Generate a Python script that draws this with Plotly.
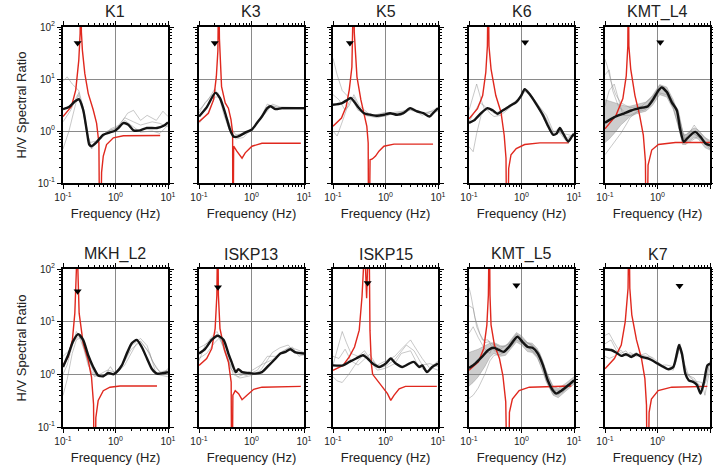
import plotly.graph_objects as go

# ---------------- DATA ----------------
STATIONS = ["K1", "K3", "K5", "K6", "KMT_L4", "MKH_L2", "ISKP13", "ISKP15", "KMT_L5", "K7"]

# mean observed H/V (black)
K1_mean_f = [0.1, 0.13, 0.168, 0.2, 0.242, 0.288, 0.316, 0.35, 0.437, 0.585, 0.785, 0.98, 1.13, 1.41, 1.76, 2.2, 2.95, 3.95, 6.15, 8.26, 10]
K1_mean_hv = [2.63, 2.9, 3.69, 4.08, 2.56, 0.92, 0.55, 0.51, 0.61, 0.85, 0.94, 1.01, 1.14, 1.42, 1.32, 1.03, 1.03, 1.14, 1.14, 1.26, 1.47]
K3_mean_f = [0.1, 0.141, 0.204, 0.251, 0.316, 0.389, 0.457, 0.562, 0.759, 1.02, 1.26, 1.58, 2.0, 2.29, 2.88, 3.8, 6.0, 10]
K3_mean_hv = [1.9, 2.88, 5.4, 4.27, 2.19, 1.07, 0.78, 0.79, 0.93, 1.07, 1.41, 1.9, 2.75, 3.0, 2.63, 2.75, 2.75, 2.75]
K5_mean_f = [0.1, 0.145, 0.19, 0.221, 0.295, 0.389, 0.525, 0.692, 0.933, 1.23, 1.66, 2.19, 2.95, 3.89, 5.25, 6.92, 8.71, 10]
K5_mean_hv = [3.2, 3.4, 4.0, 4.3, 2.96, 2.2, 2.05, 1.96, 2.05, 2.2, 2.05, 2.2, 2.75, 2.4, 2.2, 1.9, 2.4, 2.75]
K6_mean_f = [0.1, 0.125, 0.166, 0.224, 0.282, 0.351, 0.437, 0.589, 0.794, 0.986, 1.15, 1.41, 1.91, 2.57, 3.16, 3.98, 4.65, 5.37, 6.24, 7.76, 9.02, 10]
K6_mean_hv = [1.44, 1.6, 2.15, 2.75, 2.5, 2.15, 2.47, 3.0, 3.6, 4.8, 6.4, 5.2, 3.3, 2.0, 1.28, 0.85, 0.89, 1.14, 0.89, 0.63, 0.77, 0.89]
KMT_L4_mean_f = [0.1, 0.151, 0.219, 0.316, 0.457, 0.661, 0.832, 1.04, 1.2, 1.51, 1.86, 2.34, 2.69, 3.16, 3.63, 4.57, 5.25, 6.61, 8.32, 10]
KMT_L4_mean_hv = [1.44, 1.85, 2.14, 2.48, 2.75, 3.0, 4.1, 6.0, 6.9, 5.6, 3.6, 2.48, 1.1, 0.62, 0.71, 0.89, 0.96, 0.77, 0.57, 0.53]
MKH_L2_mean_f = [0.1, 0.125, 0.155, 0.195, 0.242, 0.302, 0.376, 0.468, 0.585, 0.73, 0.912, 1.05, 1.32, 1.64, 2.04, 2.54, 3.16, 3.98, 4.9, 6.17, 8.26, 10]
MKH_L2_mean_hv = [1.38, 2.3, 4.2, 5.8, 4.5, 2.3, 1.38, 0.95, 0.92, 1.06, 1.0, 1.1, 1.48, 2.48, 3.9, 4.5, 3.3, 2.0, 1.28, 1.03, 1.06, 1.1]
ISKP13_mean_f = [0.1, 0.13, 0.174, 0.229, 0.295, 0.363, 0.417, 0.501, 0.562, 0.661, 0.883, 1.17, 1.58, 2.14, 2.88, 3.55, 4.47, 5.5, 6.92, 10]
ISKP13_mean_hv = [2.48, 3.0, 4.5, 5.4, 4.5, 2.48, 1.72, 1.1, 1.25, 1.1, 1.06, 1.03, 1.1, 1.48, 2.0, 2.48, 2.67, 3.0, 2.6, 2.48]
ISKP15_mean_f = [0.1, 0.155, 0.204, 0.275, 0.372, 0.457, 0.569, 0.759, 1.01, 1.26, 1.57, 2.09, 2.82, 3.47, 4.37, 5.01, 6.17, 7.76, 10]
ISKP15_mean_hv = [1.48, 1.48, 1.72, 2.0, 2.3, 2.0, 1.6, 1.38, 1.6, 2.0, 1.6, 1.38, 1.6, 1.72, 1.38, 1.48, 1.1, 1.38, 1.6]
KMT_L5_mean_f = [0.1, 0.131, 0.176, 0.234, 0.295, 0.372, 0.457, 0.575, 0.724, 0.832, 1.05, 1.32, 1.62, 2.04, 2.57, 3.16, 3.98, 4.57, 5.75, 7.76, 10]
KMT_L5_mean_hv = [1.32, 1.6, 2.14, 2.9, 3.2, 2.9, 2.67, 3.3, 4.5, 5.2, 4.1, 3.3, 3.2, 2.5, 1.48, 0.77, 0.49, 0.43, 0.49, 0.62, 0.77]
K7_mean_f = [0.1, 0.131, 0.162, 0.204, 0.251, 0.316, 0.398, 0.495, 0.661, 0.891, 1.2, 1.62, 2.0, 2.34, 2.57, 2.92, 3.39, 3.94, 4.9, 5.69, 6.61, 7.66, 8.91, 10]
K7_mean_hv = [3.0, 2.9, 2.6, 2.24, 2.4, 2.14, 2.4, 2.14, 2.0, 1.72, 1.44, 1.25, 1.38, 2.47, 3.6, 2.47, 1.03, 0.77, 0.71, 0.62, 0.43, 0.71, 1.48, 1.6]

# theoretical H/V (red); 1000 = off-scale peak, 0.001 = off-scale trough
K1_theo_f = [0.1, 0.145, 0.175, 0.2, 0.212, 0.218, 0.224, 0.234, 0.26, 0.302, 0.376, 0.436, 0.483, 0.505, 0.543, 0.585, 0.676, 0.91, 1.41, 3.0, 7.1]
K1_theo_hv = [1.9, 2.96, 6.2, 23, 75, 1000, 80, 36, 12.8, 5.3, 2.56, 1.42, 0.59, 0.001, 0.16, 0.33, 0.55, 0.74, 0.81, 0.82, 0.82]
K3_theo_f = [0.1, 0.151, 0.19, 0.214, 0.229, 0.237, 0.245, 0.251, 0.269, 0.316, 0.363, 0.407, 0.437, 0.442, 0.457, 0.525, 0.66, 0.76, 1.02, 1.58, 3.3, 8.7]
K3_theo_hv = [1.51, 2.19, 4.0, 11.2, 35, 1000, 60, 31, 7.1, 3.47, 2.75, 1.66, 0.93, 0.001, 0.51, 0.41, 0.30, 0.38, 0.51, 0.58, 0.58, 0.58]
K5_theo_f = [0.1, 0.145, 0.178, 0.204, 0.229, 0.24, 0.248, 0.254, 0.263, 0.286, 0.339, 0.389, 0.441, 0.468, 0.479, 0.508, 0.562, 0.646, 0.75, 0.933, 1.45, 8.05]
K5_theo_hv = [1.23, 1.78, 2.96, 6.2, 17, 75, 1000, 80, 36, 11, 4.0, 2.2, 1.23, 0.59, 0.001, 0.28, 0.29, 0.33, 0.41, 0.51, 0.56, 0.56]
K6_theo_f = [0.1, 0.145, 0.182, 0.209, 0.224, 0.232, 0.24, 0.263, 0.324, 0.407, 0.468, 0.507, 0.53, 0.57, 0.631, 0.794, 1.15, 2.24, 7.94]
K6_theo_hv = [1.72, 2.69, 4.8, 13.5, 43, 1000, 43, 15.5, 4.8, 2.3, 0.83, 0.30, 0.001, 0.19, 0.35, 0.46, 0.55, 0.59, 0.59]
KMT_L4_theo_f = [0.1, 0.162, 0.219, 0.254, 0.272, 0.278, 0.285, 0.309, 0.372, 0.457, 0.537, 0.589, 0.617, 0.661, 0.776, 1.04, 2.19, 10]
KMT_L4_theo_hv = [1.1, 2.0, 4.2, 11.5, 43, 1000, 43, 15.5, 4.8, 2.0, 0.83, 0.26, 0.001, 0.22, 0.43, 0.55, 0.6, 0.6]
MKH_L2_theo_f = [0.1, 0.125, 0.151, 0.168, 0.18, 0.186, 0.192, 0.203, 0.242, 0.302, 0.349, 0.382, 0.398, 0.422, 0.468, 0.585, 0.785, 1.22, 6.17]
MKH_L2_theo_hv = [1.48, 2.14, 4.5, 14.5, 98, 1000, 98, 14.5, 3.9, 1.85, 0.89, 0.27, 0.001, 0.15, 0.32, 0.49, 0.57, 0.6, 0.6]
ISKP13_theo_f = [0.1, 0.14, 0.175, 0.203, 0.219, 0.228, 0.234, 0.251, 0.306, 0.363, 0.41, 0.423, 0.442, 0.49, 0.568, 0.661, 0.82, 1.1, 1.58, 8.7]
ISKP13_theo_hv = [1.48, 2.0, 3.1, 7.4, 32, 1000, 32, 7.4, 2.9, 1.72, 0.71, 0.001, 0.4, 0.49, 0.43, 0.33, 0.4, 0.52, 0.57, 0.59]
ISKP15_theo_f = [0.1, 0.155, 0.204, 0.257, 0.316, 0.357, 0.38, 0.389, 0.41, 0.437, 0.46, 0.484, 0.506, 0.537, 0.569, 0.708, 0.877, 1.09, 1.26, 1.45, 1.82, 2.4, 9.5]
ISKP15_theo_hv = [1.19, 1.48, 2.14, 3.3, 6.9, 30, 100, 1000, 150, 28, 150, 1000, 6.9, 1.6, 1.0, 0.77, 0.57, 0.43, 0.32, 0.4, 0.53, 0.59, 0.59]
KMT_L5_theo_f = [0.1, 0.151, 0.191, 0.219, 0.234, 0.244, 0.251, 0.263, 0.305, 0.38, 0.442, 0.501, 0.552, 0.589, 0.67, 0.902, 1.41, 8.9]
KMT_L5_theo_hv = [1.19, 1.72, 3.1, 8.7, 32, 1000, 32, 8.7, 3.6, 2.0, 0.95, 0.3, 0.001, 0.19, 0.34, 0.49, 0.57, 0.6]
K7_theo_f = [0.1, 0.151, 0.204, 0.243, 0.275, 0.286, 0.297, 0.324, 0.398, 0.495, 0.575, 0.617, 0.645, 0.692, 0.766, 1.03, 1.86, 8.9]
K7_theo_hv = [1.28, 2.0, 3.6, 10, 43, 1000, 43, 13.5, 4.5, 2.0, 0.83, 0.26, 0.001, 0.19, 0.34, 0.49, 0.57, 0.59]

# individual observed H/V curves (thin grey)
K1_obs_f = [[0.1, 0.12, 0.15, 0.2, 0.25, 0.3, 0.35, 0.45, 0.6, 0.8, 1.2, 1.7, 2.2, 3, 4, 6, 8, 10],
            [0.1, 0.13, 0.17, 0.2, 0.25, 0.3, 0.35, 0.5, 0.8, 1.2, 1.5, 2, 3, 5, 7, 10],
            [0.1, 0.14, 0.19, 0.23, 0.28, 0.33, 0.45, 0.7, 1, 1.5, 2.2, 3, 5, 7, 10]]
K1_obs_hv = [[9, 11, 8, 6, 2.5, 0.8, 0.5, 0.6, 0.8, 1.1, 1.3, 2.2, 2.5, 1.6, 2.0, 1.6, 2.4, 1.9],
             [0.45, 1.0, 3, 5.5, 2.0, 0.7, 0.45, 0.75, 1.05, 1.2, 1.6, 1.3, 0.95, 1.0, 0.9, 1.3],
             [1.5, 2.5, 5, 3.5, 1.0, 0.6, 0.65, 1.0, 1.1, 1.8, 1.5, 1.3, 1.5, 1.4, 1.2]]
K3_obs_f = [[0.1, 0.15, 0.2, 0.25, 0.3, 0.4, 0.5, 0.7, 1, 1.5, 2, 2.5, 4, 10],
            [0.1, 0.15, 0.2, 0.25, 0.32, 0.4, 0.5, 0.7, 1, 1.5, 2, 2.5, 3.5, 10],
            [0.1, 0.13, 0.18, 0.23, 0.3, 0.4, 0.5, 0.8, 1.2, 2, 2.4, 4, 10]]
K3_obs_hv = [[2.5, 4, 6.5, 4, 2, 0.9, 0.75, 0.85, 1.0, 1.8, 3.3, 3.0, 2.6, 2.7],
             [1.4, 2.3, 4.5, 4.5, 2.0, 1.0, 0.7, 0.75, 1.1, 1.7, 2.4, 3.3, 2.9, 2.8],
             [2.2, 3.5, 5, 5.5, 2.5, 1.2, 0.85, 0.9, 1.3, 2.6, 3.1, 2.7, 2.6]]
K5_obs_f = [[0.1, 0.12, 0.15, 0.2, 0.25, 0.3, 0.4, 0.6, 1, 2, 3, 5, 10],
            [0.1, 0.12, 0.15, 0.2, 0.25, 0.3, 0.4, 0.7, 1, 2, 3, 5, 10],
            [0.1, 0.13, 0.17, 0.2, 0.25, 0.32, 0.5, 1, 1.5, 3, 6, 10]]
K5_obs_hv = [[25, 12, 6, 4.5, 3.5, 2.5, 2.2, 2.0, 2.3, 2.0, 2.6, 2.2, 2.5],
             [1.0, 0.8, 1.5, 3.5, 4.5, 3, 2.0, 1.8, 2.0, 2.3, 2.8, 2.0, 2.8],
             [5, 4, 2.5, 3.0, 5, 3.0, 2.1, 1.9, 2.3, 2.5, 2.1, 2.4]]
K6_obs_f = [[0.1, 0.12, 0.14, 0.17, 0.2, 0.25, 0.3, 0.4, 0.6, 1, 1.2, 1.5, 2, 3, 4, 5, 7, 10],
            [0.1, 0.12, 0.14, 0.17, 0.22, 0.28, 0.35, 0.5, 0.8, 1.1, 1.5, 2, 3, 4, 5, 7, 10],
            [0.1, 0.13, 0.16, 0.2, 0.25, 0.3, 0.4, 0.6, 1, 1.3, 2, 3, 4, 6, 10]]
K6_obs_hv = [[2.5, 5, 8, 4, 2.5, 2.6, 2.2, 2.4, 3.2, 4.5, 6.5, 5, 3.4, 1.7, 0.9, 1.1, 0.7, 0.9],
             [0.5, 0.4, 0.9, 2.0, 2.8, 2.3, 2.0, 2.7, 3.5, 6.0, 4.8, 3.0, 1.5, 0.85, 1.0, 0.65, 0.85],
             [1.5, 2.5, 3.5, 3.0, 2.2, 1.9, 2.0, 2.8, 5.0, 6.2, 3.3, 2.0, 1.0, 0.9, 0.8]]
KMT_L4_obs_f = [[0.1, 0.11, 0.13, 0.16, 0.2, 0.3, 0.5, 0.8, 1.1, 1.5, 2, 2.6, 3.2, 4, 5, 6, 10],
                [0.1, 0.12, 0.14, 0.18, 0.25, 0.35, 0.6, 1, 1.3, 2, 2.5, 3, 3.5, 4.5, 6, 10],
                [0.1, 0.12, 0.15, 0.2, 0.25, 0.3, 0.4, 0.6, 1, 1.5, 2, 3, 4, 6, 10],
                [0.1, 0.12, 0.15, 0.18, 0.22, 0.3, 0.5, 0.8, 1.2, 1.8, 2.5, 3.2, 4.5, 7, 10]]
KMT_L4_obs_hv = [[24, 18, 9, 5, 3.5, 2.8, 3.0, 4.5, 7.5, 6, 3.6, 1.8, 0.7, 0.9, 1.3, 1.0, 0.6],
                 [12, 15, 6, 3, 2.2, 2.6, 2.8, 6, 7, 3.5, 2.5, 1.0, 0.6, 0.9, 0.8, 0.5],
                 [0.35, 0.45, 0.6, 0.9, 1.3, 1.8, 2.3, 2.6, 5.5, 5, 2.8, 0.6, 0.6, 0.8, 0.45],
                 [3, 6, 8, 4, 2.0, 2.0, 2.6, 3.5, 6.8, 4.2, 2.0, 0.8, 1.0, 0.65, 0.55]]
MKH_L2_obs_f = [[0.1, 0.12, 0.15, 0.18, 0.2, 0.25, 0.3, 0.4, 0.5, 0.7, 1, 1.5, 2, 3, 4, 5, 7, 10],
                [0.1, 0.12, 0.15, 0.18, 0.22, 0.27, 0.35, 0.5, 0.8, 1.2, 2, 3, 4.5, 6, 10],
                [0.1, 0.13, 0.17, 0.2, 0.25, 0.3, 0.4, 0.6, 0.8, 1, 1.5, 2.5, 3, 4, 6, 8, 10]]
MKH_L2_obs_hv = [[1.0, 1.5, 3.5, 6.5, 5.5, 3, 1.5, 0.9, 1.0, 1.2, 1.1, 1.8, 3.5, 4.8, 3.5, 1.8, 1.1, 1.2],
                 [0.4, 0.8, 2.5, 4.5, 5, 2.5, 1.0, 0.9, 1.0, 1.2, 3.0, 4.2, 2.5, 1.0, 0.9],
                 [2.2, 2.8, 4.5, 5.2, 4, 2.0, 1.0, 0.9, 1.4, 1.0, 1.5, 3.8, 4.3, 2.9, 1.3, 1.0, 1.3]]
ISKP13_obs_f = [[0.1, 0.13, 0.17, 0.22, 0.28, 0.35, 0.45, 0.6, 1, 1.5, 2.5, 3.5, 5, 7, 10],
                [0.1, 0.12, 0.16, 0.22, 0.3, 0.4, 0.5, 0.8, 1.3, 2, 3, 5, 7, 10],
                [0.1, 0.14, 0.2, 0.25, 0.32, 0.4, 0.55, 0.9, 1.5, 2.5, 4, 6, 8, 10]]
ISKP13_obs_hv = [[1.8, 3.5, 5, 6.5, 4, 2, 1.0, 0.85, 0.95, 1.2, 2.6, 3.2, 3.6, 2.5, 2.3],
                 [3.2, 3.5, 4.2, 5.8, 3.2, 1.5, 1.1, 0.95, 1.2, 2.2, 2.2, 3.2, 3.0, 2.6],
                 [2.0, 2.5, 4.0, 5, 2.4, 1.3, 0.9, 1.1, 1.5, 1.9, 2.8, 3.3, 2.2, 2.4]]
ISKP15_obs_f = [[0.1, 0.12, 0.15, 0.18, 0.22, 0.3, 0.4, 0.5, 0.7, 1, 1.5, 2, 3, 3.5, 5, 7, 10],
                [0.1, 0.12, 0.15, 0.2, 0.25, 0.3, 0.4, 0.5, 0.7, 1, 1.5, 2, 3, 4, 6, 8, 10],
                [0.1, 0.13, 0.17, 0.22, 0.3, 0.4, 0.5, 0.7, 1, 1.5, 2.5, 3.5, 5, 7, 10]]
ISKP15_obs_hv = [[1.5, 3, 6.5, 4, 2.5, 2.2, 2.8, 2.0, 1.5, 1.8, 2.2, 3, 4.5, 3.5, 2, 1.3, 1.8],
                 [0.9, 0.75, 0.7, 1.0, 1.4, 1.8, 2.5, 1.8, 1.2, 1.3, 1.6, 2.5, 2.8, 1.6, 1.1, 1.3, 1.2],
                 [2.2, 2.0, 3.0, 1.8, 1.5, 2.0, 2.4, 1.4, 1.4, 1.9, 3.6, 2.8, 1.5, 1.6, 1.4]]
KMT_L5_obs_f = [[0.1, 0.11, 0.13, 0.16, 0.2, 0.25, 0.3, 0.4, 0.6, 0.8, 1, 1.5, 2, 3, 4, 6, 10],
                [0.1, 0.12, 0.14, 0.18, 0.23, 0.3, 0.45, 0.7, 0.9, 1.2, 2, 2.6, 3.5, 5, 7, 10],
                [0.1, 0.12, 0.15, 0.2, 0.25, 0.3, 0.4, 0.6, 0.8, 1.2, 2, 3, 4, 6, 10],
                [0.1, 0.12, 0.15, 0.2, 0.25, 0.3, 0.4, 0.6, 0.8, 1.1, 1.6, 2.2, 3, 4, 5, 7, 10]]
KMT_L5_obs_hv = [[45, 30, 12, 6, 4, 4.2, 3.5, 3, 4, 5.8, 4.8, 3.6, 2.8, 0.9, 0.5, 0.5, 0.8],
                 [20, 18, 8, 4.5, 4.5, 2.8, 2.5, 4.5, 5.5, 3.5, 2.4, 1.4, 0.6, 0.42, 0.55, 0.7],
                 [0.35, 0.4, 0.55, 1.0, 1.8, 2.3, 2.4, 3.2, 4.5, 3.6, 2.2, 0.7, 0.42, 0.45, 0.75],
                 [6, 8, 5, 3, 2.5, 3.8, 3.3, 3.8, 5.2, 4.2, 3.6, 2.6, 1.1, 0.55, 0.4, 0.6, 0.8]]
K7_obs_f = [[0.1, 0.12, 0.15, 0.2, 0.25, 0.3, 0.4, 0.5, 0.7, 1, 1.5, 2, 2.4, 2.6, 2.9, 3.5, 5, 7, 8.5, 10],
            [0.1, 0.12, 0.15, 0.2, 0.25, 0.3, 0.4, 0.6, 0.8, 1, 1.5, 2, 2.5, 2.7, 3, 3.5, 5, 7, 8, 10],
            [0.1, 0.13, 0.16, 0.2, 0.3, 0.5, 0.8, 1.2, 1.8, 2.2, 2.6, 3, 4, 6, 7.5, 10]]
K7_obs_hv = [[5.5, 6, 4, 2.5, 2.8, 2.2, 2.6, 2.0, 1.9, 1.7, 1.3, 1.2, 2.2, 3.2, 2.2, 1.0, 0.85, 0.5, 0.75, 1.8],
             [2.2, 2.0, 2.2, 2.9, 2.2, 2.6, 2.2, 2.5, 2.0, 1.5, 1.5, 1.4, 2.6, 3.8, 2.4, 1.1, 0.75, 0.7, 0.4, 1.3],
             [3.8, 4.5, 3.0, 2.2, 2.4, 2.3, 2.1, 1.5, 1.2, 1.6, 3.4, 2.0, 0.9, 0.65, 0.55, 1.7]]

# dense spread of individual curves (grey band) for KMT_L4 and KMT_L5
KMT_L4_band_f = [0.1, 0.12, 0.15, 0.2, 0.25, 0.3, 0.4, 0.6, 0.8, 1.1, 1.5, 2, 2.5, 3, 3.5, 4, 5, 6, 8, 10]
KMT_L4_band_hi = [4.0, 3.8, 3.5, 3.2, 3.0, 3.0, 3.2, 3.6, 4.8, 7.8, 7.0, 4.0, 2.1, 0.9, 0.85, 0.98, 1.15, 1.05, 0.75, 0.66]
KMT_L4_band_lo = [0.6, 0.7, 0.9, 1.3, 1.6, 1.9, 2.15, 2.4, 3.1, 5.0, 4.5, 2.6, 1.25, 0.55, 0.55, 0.63, 0.75, 0.7, 0.48, 0.43]
KMT_L5_band_f = [0.1, 0.12, 0.15, 0.2, 0.25, 0.3, 0.4, 0.5, 0.6, 0.8, 1.0, 1.3, 1.6, 2, 2.5, 3, 4, 5, 7, 10]
KMT_L5_band_hi = [2.6, 2.8, 3.0, 3.5, 3.9, 4.0, 3.5, 3.4, 4.3, 6.2, 5.4, 4.0, 3.9, 3.1, 1.9, 1.1, 0.6, 0.54, 0.68, 0.9]
KMT_L5_band_lo = [0.6, 0.7, 0.9, 1.4, 2.1, 2.5, 2.2, 2.3, 2.9, 4.1, 3.6, 2.7, 2.6, 2.05, 1.25, 0.72, 0.4, 0.36, 0.48, 0.65]

# peak-frequency markers (black triangles)
TRI_F = [0.19, 0.2, 0.21, 1.17, 1.13, 0.19, 0.23, 0.457, 0.8, 2.63]
TRI_HV = [49, 49, 49, 51, 51, 38, 45, 54, 49, 48]

X_TICKS = [0.1, 1, 10]
X_TICKTEXT = ["10<sup>-1</sup>", "10<sup>0</sup>", "10<sup>1</sup>"]
Y_TICKS = [0.1, 1, 10, 100]
Y_TICKTEXT = ["10<sup>-1</sup>", "10<sup>0</sup>", "10<sup>1</sup>", "10<sup>2</sup>"]
X_MINOR = [0.2, 0.3, 0.4, 0.5, 0.6, 0.7, 0.8, 0.9, 2, 3, 4, 5, 6, 7, 8, 9]
Y_MINOR = X_MINOR + [20, 30, 40, 50, 60, 70, 80, 90]

# ---------------- FIGURE ----------------
G = globals()
W, H = 713, 471
COL_LEFT = [63, 199, 333, 469, 605]
PANEL_W = 105
ROW_TOP = [27, 269]
PANEL_H = [156, 158]
FONT = "Liberation Sans, Arial, Helvetica, sans-serif"

BLACK = "#141414"
RED = "#e0281e"
GREY = "rgba(140,140,140,0.6)"

fig = go.Figure()
layout = dict(
    width=W, height=H,
    margin=dict(l=0, r=0, t=0, b=0),
    paper_bgcolor="white", plot_bgcolor="white",
    showlegend=False,
    font=dict(family=FONT, color="#222"),
    annotations=[],
)

for i, st in enumerate(STATIONS):
    r, c = divmod(i, 5)
    n = "" if i == 0 else str(i + 1)
    xa, ya = "x" + n, "y" + n
    x0 = COL_LEFT[c] / W
    x1 = (COL_LEFT[c] + PANEL_W) / W
    y1 = 1 - ROW_TOP[r] / H
    y0 = 1 - (ROW_TOP[r] + PANEL_H[r]) / H

    common = dict(
        type="log", showline=True, linecolor="black", linewidth=2, mirror="allticks",
        ticks="outside", ticklen=4, tickwidth=1, tickcolor="black",
        showgrid=True, gridcolor="#8a8a8a", gridwidth=1, zeroline=False,
        tickmode="array", automargin=False,
        tickfont=dict(size=10, family=FONT, color="#222"),
    )
    layout["xaxis" + n] = dict(
        common, domain=[x0, x1], range=[-1, 1], anchor=ya,
        tickvals=X_TICKS, ticktext=X_TICKTEXT,
        minor=dict(tickmode="array", tickvals=X_MINOR, ticks="outside", ticklen=2,
                   tickwidth=1, tickcolor="black", showgrid=False),
        title=dict(text="Frequency (Hz)", font=dict(size=13, family=FONT, color="#222"), standoff=7),
    )
    yax = dict(
        common, domain=[y0, y1], range=[-1, 2], anchor=xa,
        tickvals=Y_TICKS, ticktext=Y_TICKTEXT, showticklabels=(c == 0),
        minor=dict(tickmode="array", tickvals=Y_MINOR, ticks="outside", ticklen=2,
                   tickwidth=1, tickcolor="black", showgrid=False),
    )
    if c == 0:
        yax["title"] = dict(text="H/V Spectral Ratio", font=dict(size=13, family=FONT, color="#222"), standoff=8)
    layout["yaxis" + n] = yax

    layout["annotations"].append(dict(
        text=st, x=(x0 + x1) / 2, y=1 - (ROW_TOP[r] - 15) / H, xref="paper", yref="paper",
        showarrow=False, font=dict(size=16, family=FONT, color="#222"),
        xanchor="center", yanchor="middle",
    ))

    # grey band
    if st + "_band_f" in G:
        bf = G[st + "_band_f"]
        fig.add_trace(go.Scatter(x=bf, y=G[st + "_band_lo"], mode="lines",
                                 line=dict(color="rgba(120,120,120,0.4)", width=0.8),
                                 xaxis=xa, yaxis=ya, hoverinfo="skip"))
        fig.add_trace(go.Scatter(x=bf, y=G[st + "_band_hi"], mode="lines", fill="tonexty",
                                 fillcolor="rgba(130,130,130,0.4)",
                                 line=dict(color="rgba(120,120,120,0.4)", width=0.8),
                                 xaxis=xa, yaxis=ya, hoverinfo="skip"))
    # grey individual curves
    for fo, ho in zip(G[st + "_obs_f"], G[st + "_obs_hv"]):
        fig.add_trace(go.Scatter(x=fo, y=ho, mode="lines", line=dict(color=GREY, width=0.8),
                                 xaxis=xa, yaxis=ya, hoverinfo="skip"))
    # theoretical
    fig.add_trace(go.Scatter(x=G[st + "_theo_f"], y=G[st + "_theo_hv"], mode="lines",
                             line=dict(color=RED, width=1.4), xaxis=xa, yaxis=ya, name="theory"))
    # mean
    fig.add_trace(go.Scatter(x=G[st + "_mean_f"], y=G[st + "_mean_hv"], mode="lines",
                             line=dict(color=BLACK, width=2.4, shape="spline", smoothing=0.6),
                             xaxis=xa, yaxis=ya, name="mean"))
    # triangle
    fig.add_trace(go.Scatter(x=[TRI_F[i]], y=[TRI_HV[i]], mode="markers",
                             marker=dict(symbol="triangle-down", size=7, color="black"),
                             xaxis=xa, yaxis=ya, cliponaxis=False))

fig.update_layout(**layout)
fig.write_html("out.html", config={"displayModeBar": False},
               post_script="document.body.style.margin='0';document.body.style.overflow='hidden';")
